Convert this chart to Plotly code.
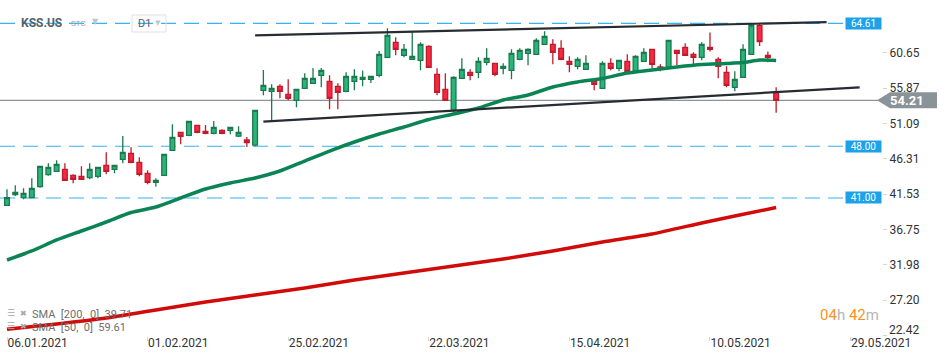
import plotly.graph_objects as go

# ---------------- data ----------------
opens = [
    40.01, 41.45, 41.04, 41.04, 42.53, 44.15, 44.60, 44.87, 44.06, 43.93,
    43.75, 43.93, 45.42, 44.87, 46.23, 47.04, 45.82, 44.33, 43.12, 44.06,
    47.44, 49.88, 49.47, 50.83, 50.01, 49.74, 50.15, 50.15, 49.38, 48.84,
    48.15, 55.56, 55.42, 56.10, 55.02, 54.21, 55.83, 56.51, 57.59, 56.78,
    56.10, 55.42, 56.78, 57.05, 57.05, 57.59, 60.02, 62.05, 60.29, 59.75,
    59.62, 61.51, 57.72, 55.70, 52.86, 57.18, 57.99, 57.99, 59.35, 59.21,
    58.54, 58.27, 59.75, 60.56, 60.43, 61.78, 61.78, 61.24, 59.48, 58.81,
    58.40, 56.78, 55.83, 59.21, 58.54, 59.48, 58.13, 59.48, 61.11, 58.72,
    58.67, 60.97, 61.38, 60.43, 60.02, 61.38, 59.75, 57.99, 55.97, 57.32,
    60.43, 64.35, 60.29, 55.30]
highs = [
    42.17, 42.71, 42.30, 43.66, 45.28, 45.69, 46.09, 45.69, 44.20, 45.28,
    45.69, 45.14, 47.17, 45.42, 49.38, 47.85, 46.50, 44.74, 43.66, 46.90,
    50.96, 49.88, 51.37, 50.83, 50.87, 51.41, 50.28, 50.56, 50.69, 49.25,
    52.86, 58.31, 56.37, 56.37, 57.05, 55.70, 57.86, 58.58, 58.58, 57.59,
    56.51, 57.99, 58.40, 58.26, 57.45, 60.88, 63.95, 62.73, 61.83, 63.54,
    62.05, 61.65, 58.54, 57.86, 57.45, 59.89, 58.40, 60.02, 61.24, 59.21,
    59.21, 61.11, 61.24, 61.24, 62.59, 63.54, 62.46, 62.32, 60.16, 60.02,
    60.29, 57.05, 59.48, 59.89, 59.62, 60.43, 60.29, 61.24, 61.11, 59.08,
    62.32, 60.97, 61.92, 60.70, 62.05, 63.40, 60.02, 58.81, 58.13, 61.78,
    64.61, 64.61, 60.83, 55.97]
lows = [
    40.01, 41.27, 40.82, 41.04, 42.39, 44.02, 44.60, 43.39, 42.98, 43.52,
    43.52, 43.66, 44.20, 44.33, 45.69, 45.69, 43.93, 42.85, 42.53, 44.06,
    47.44, 48.26, 49.34, 49.74, 49.61, 49.61, 49.61, 49.61, 49.25, 47.90,
    48.00, 54.88, 51.50, 54.48, 54.21, 53.26, 55.83, 56.51, 55.97, 52.99,
    52.99, 55.29, 55.56, 56.10, 56.55, 57.32, 60.02, 60.29, 60.02, 59.75,
    58.27, 58.67, 54.88, 54.21, 52.58, 57.18, 56.91, 57.18, 58.94, 57.45,
    57.72, 57.05, 59.62, 58.94, 60.43, 61.78, 59.08, 59.62, 57.99, 58.40,
    58.40, 55.56, 55.83, 58.27, 58.13, 57.86, 58.13, 59.48, 58.54, 58.13,
    58.67, 58.94, 60.29, 59.08, 59.62, 60.83, 57.18, 55.97, 55.42, 57.32,
    60.43, 61.55, 59.35, 52.53]
closes = [
    41.04, 41.76, 41.63, 42.30, 45.28, 45.14, 45.55, 43.39, 43.52, 43.52,
    44.87, 45.14, 44.60, 45.42, 47.17, 45.82, 44.20, 43.12, 43.39, 46.90,
    49.20, 49.34, 51.37, 49.88, 49.74, 50.56, 49.74, 50.56, 49.88, 48.50,
    52.86, 56.24, 55.83, 55.42, 54.48, 55.70, 57.18, 57.18, 58.26, 54.48,
    55.29, 57.45, 57.45, 57.32, 57.45, 60.43, 63.00, 61.11, 61.11, 60.16,
    61.78, 58.67, 55.29, 54.21, 57.32, 58.40, 57.59, 59.48, 59.89, 57.72,
    58.81, 60.56, 60.97, 61.11, 62.32, 62.86, 60.70, 59.75, 59.08, 59.75,
    59.21, 56.37, 59.21, 58.54, 59.62, 58.13, 60.16, 60.70, 59.08, 58.58,
    62.32, 60.56, 60.29, 60.02, 61.78, 61.11, 58.81, 56.24, 57.05, 61.11,
    64.40, 62.14, 60.02, 54.21]
bar_index = list(range(len(opens)))

sma50_idx = [0, 3, 6, 9, 12, 15, 18, 21, 24, 27, 30, 33, 36, 39, 42, 45, 48, 51,
             54, 57, 60, 63, 66, 69, 72, 75, 78, 81, 84, 87, 89, 91, 93]
sma50_val = [32.61, 33.83, 35.32, 36.53, 37.75, 39.03, 39.78, 41.00, 42.21, 43.03,
             43.70, 44.65, 46.00, 47.35, 48.57, 49.65, 50.60, 51.61, 52.36, 53.17,
             54.25, 54.93, 56.01, 56.69, 57.16, 57.90, 58.31, 58.72, 59.05, 59.19,
             59.32, 59.66, 59.61]
sma200_idx = [0, 6, 12, 18, 24, 30, 36, 42, 48, 54, 60, 66, 72, 78, 84, 88, 93]
sma200_val = [23.24, 23.95, 24.76, 25.85, 26.93, 27.88, 28.82, 29.91, 30.86, 31.80,
              32.75, 33.83, 35.05, 36.13, 37.62, 38.56, 39.71]

upper_idx = [30.0, 99.1]
upper_val = [63.00, 64.80]
lower_idx = [31.0, 103.1]
lower_val = [51.32, 55.97]

levels = [64.61, 48.00, 41.00]
last_price = 54.21

tick_idx = [0, 17, 34, 51, 68, 85, 102]
tick_text = ['06.01.2021', '01.02.2021', '25.02.2021', '22.03.2021',
             '15.04.2021', '10.05.2021', '29.05.2021']
ytick_vals = [22.42, 27.20, 31.98, 36.75, 41.53, 46.31, 51.09, 55.87, 60.65]
ytick_text = ['22.42', '27.20', '31.98', '36.75', '41.53', '46.31', '51.09', '55.87', '60.65']

# ---------------- layout geometry ----------------
W, H = 950, 360
ML, MR, MT, MB = 0, 68, 0, 24
PW, PH = W - ML - MR, H - MT - MB
Y_RANGE = [22.33, 67.78]
X_RANGE = [-0.846, 105.8]


def fx(px):
    return (px - ML) / PW


def fy(py):
    return 1 - (py - MT) / PH


FONT = 'Roboto'

fig = go.Figure()

fig.add_trace(go.Scatter(x=sma200_idx, y=sma200_val, mode='lines',
                         line=dict(color='#d10a0a', width=3.5, shape='spline', smoothing=0.6),
                         hoverinfo='skip', showlegend=False))
fig.add_trace(go.Scatter(x=sma50_idx, y=sma50_val, mode='lines',
                         line=dict(color='#0b8455', width=3.5, shape='spline', smoothing=0.6),
                         hoverinfo='skip', showlegend=False))

fig.add_trace(go.Candlestick(
    x=bar_index, open=opens, high=highs, low=lows, close=closes,
    increasing=dict(fillcolor='#28b47b', line=dict(color='#1a7a4d', width=1.3)),
    decreasing=dict(fillcolor='#f5293f', line=dict(color='#c21a2d', width=1.3)),
    whiskerwidth=0, showlegend=False, hoverinfo='skip'))

for xs, ys in ((upper_idx, upper_val), (lower_idx, lower_val)):
    fig.add_trace(go.Scatter(x=xs, y=ys, mode='lines',
                             line=dict(color='#262c31', width=2.2),
                             hoverinfo='skip', showlegend=False))

shapes = []
for lv in levels:
    shapes.append(dict(type='line', xref='paper', yref='y', x0=0, x1=fx(845), y0=lv, y1=lv,
                       line=dict(color='#35b2f2', width=1.2, dash='15px,8px'), layer='below'))
shapes.append(dict(type='line', xref='paper', yref='y', x0=0, x1=1, y0=last_price, y1=last_price,
                   line=dict(color='#8a9398', width=1.2), layer='below'))
# current price tag
shapes.append(dict(type='path', xref='paper', yref='y', xsizemode='pixel', ysizemode='pixel',
                   xanchor=1, yanchor=last_price,
                   path='M -5 0 L 8 8 L 55 8 L 55 -8 L 8 -8 Z',
                   fillcolor='#8a9398', line=dict(width=0), layer='above'))
# D1 box
shapes.append(dict(type='rect', xref='paper', yref='paper', x0=fx(132), x1=fx(166),
                   y0=fy(32), y1=fy(15), line=dict(color='#dde1e5', width=1)))

annotations = []
for lv in levels:
    annotations.append(dict(x=1, xref='paper', xanchor='right', y=lv, yref='y',
                            text=f'{lv:.2f}', showarrow=False, bgcolor='#1da1e8',
                            font=dict(color='white', size=10, family=FONT),
                            width=33, height=9, borderpad=1))
annotations.append(dict(x=1, xref='paper', xanchor='left', xshift=6, y=last_price, yref='y',
                        text=f'<b>{last_price:.2f}</b>', showarrow=False,
                        font=dict(color='white', size=13, family=FONT)))

# lowest y tick label sits slightly above its tick (kept clear of the date labels)
axis_ticktext = list(ytick_text)
axis_ticktext[0] = ''
annotations.append(dict(x=1, xref='paper', xanchor='left', xshift=5, y=ytick_vals[0], yref='y',
                        yshift=5, yanchor='middle', text=ytick_text[0], showarrow=False,
                        font=dict(color='#333333', size=12, family=FONT)))

# header
annotations += [
    dict(x=fx(19), y=fy(23), xref='paper', yref='paper', xanchor='left', yanchor='middle',
         text='<b>KSS.US</b>', showarrow=False, font=dict(color='#56606a', size=12, family=FONT)),
    dict(x=fx(69), y=fy(24), xref='paper', yref='paper', xanchor='left', yanchor='middle',
         text='STC', showarrow=False, font=dict(color='#9aa4ad', size=8, family=FONT)),
    dict(x=fx(90), y=fy(22), xref='paper', yref='paper', xanchor='left', yanchor='middle',
         text='▼', showarrow=False, font=dict(color='#bfc6cc', size=8, family='DejaVu Sans')),
    dict(x=fx(136), y=fy(24), xref='paper', yref='paper', xanchor='left', yanchor='middle',
         text='D1', showarrow=False, font=dict(color='#56606a', size=11, family=FONT)),
    dict(x=fx(153), y=fy(23), xref='paper', yref='paper', xanchor='left', yanchor='middle',
         text='▼', showarrow=False, font=dict(color='#bfc6cc', size=7, family='DejaVu Sans')),
]

# indicator legend
for row_y, label in ((314, 'SMA  [200,  0]  39.71'), (327, 'SMA  [50,  0]  59.61')):
    annotations.append(dict(x=fx(5), y=fy(row_y - 1), xref='paper', yref='paper', xanchor='left',
                            yanchor='middle', text='☰', showarrow=False,
                            font=dict(color='#a8a8a8', size=9, family='DejaVu Sans')))
    annotations.append(dict(x=fx(18), y=fy(row_y - 1), xref='paper', yref='paper', xanchor='left',
                            yanchor='middle', text='✖', showarrow=False,
                            font=dict(color='#a8a8a8', size=8, family='DejaVu Sans')))
    annotations.append(dict(x=fx(30), y=fy(row_y), xref='paper', yref='paper', xanchor='left',
                            yanchor='middle', text=label, showarrow=False,
                            font=dict(color='#6e6e6e', size=11, family=FONT)))

# timer
annotations.append(dict(x=fx(881), y=fy(315), xref='paper', yref='paper', xanchor='right',
                        yanchor='middle', showarrow=False,
                        text=("<span style='color:#f7931e'>04</span><span style='color:#b5b5b5'>h</span> "
                              "<span style='color:#f7931e'>42</span><span style='color:#b5b5b5'>m</span>"),
                        font=dict(size=15, family=FONT)))

fig.update_layout(
    width=W, height=H,
    margin=dict(l=ML, r=MR, t=MT, b=MB),
    paper_bgcolor='white', plot_bgcolor='white',
    font=dict(family=FONT, size=12, color='#333333'),
    showlegend=False,
    boxgap=0.18,
    shapes=shapes,
    annotations=annotations,
    xaxis=dict(range=X_RANGE, tickvals=tick_idx, ticktext=tick_text,
               ticklabelposition='outside right', ticklabelstandoff=-4,
               showgrid=False, zeroline=False, showline=False,
               ticks='outside', ticklen=4, tickcolor='#d6d6d6',
               tickfont=dict(size=12, color='#333333', family=FONT),
               rangeslider=dict(visible=False), fixedrange=True),
    yaxis=dict(range=Y_RANGE, side='right', tickvals=ytick_vals, ticktext=axis_ticktext,
               showgrid=False, zeroline=False, showline=False,
               ticks='outside', ticklen=4, tickcolor='#d6d6d6',
               tickfont=dict(size=12, color='#333333', family=FONT), fixedrange=True),
)

fig.write_html('out.html', config={'displayModeBar': False},
               post_script="document.body.style.margin='0';")
